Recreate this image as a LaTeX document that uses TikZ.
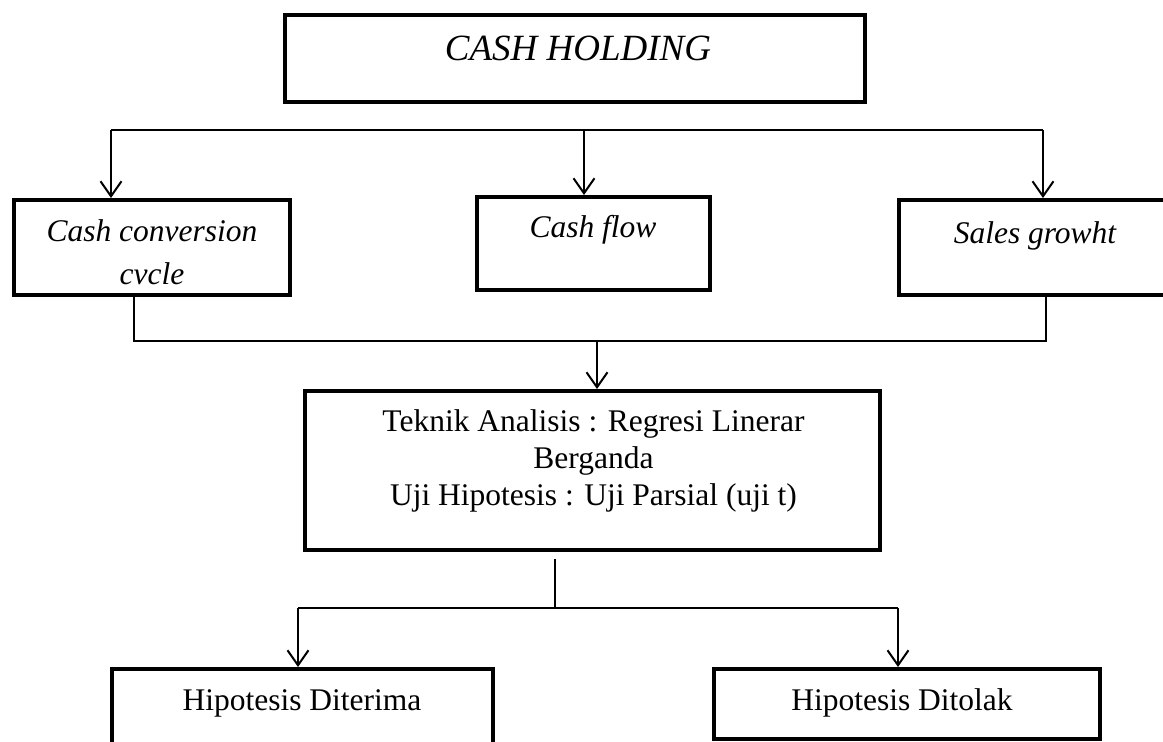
\documentclass[tikz,border=0pt]{standalone}
\usepackage{fontspec}
\setmainfont{Liberation Serif}
\usetikzlibrary{arrows.meta}
\begin{document}
\begin{tikzpicture}[x=1pt,y=-1pt,
  box/.style={draw=black,line width=4pt,fill=white,inner sep=0pt},
  lbl/.style={inner sep=0pt,font=\fontsize{31.5}{37}\selectfont},
  conn/.style={draw=black,line width=2pt},
  arr/.style={conn,-{Straight Barb[length=15pt,width=21pt,line width=2pt]}}]
\useasboundingbox (0,0) rectangle (1163,742);
\clip (0,0) rectangle (1163,742);
% boxes
\node[box,minimum width=580pt,minimum height=87pt] (top) at (575,58.5) {};
\node[box,minimum width=276pt,minimum height=95pt] (b1) at (152,247.5) {};
\node[box,minimum width=233pt,minimum height=93pt] (b2) at (593.5,243.5) {};
\node[box,minimum width=278pt,minimum height=95pt] (b3) at (1038,247.5) {};
\node[box,minimum width=575pt,minimum height=159pt] (m) at (592.5,470.5) {};
\node[box,minimum width=381pt,minimum height=101pt] (d1) at (302.5,719.5) {};
\node[box,minimum width=386pt,minimum height=70pt] (d2) at (907,704) {};
% texts
\node[lbl,anchor=base,font=\fontsize{37}{40}\selectfont\itshape] (ttop) at (578,60) {CASH HOLDING};
\node[lbl,align=center,font=\fontsize{31.5}{43}\selectfont\itshape] (tb1) at (152,252.5) {Cash conversion\\cvcle};
\node[lbl,anchor=base,font=\fontsize{31.5}{37}\selectfont\itshape] (tb2) at (593,237) {Cash flow};
\node[lbl,anchor=base,font=\fontsize{31.5}{37}\selectfont\itshape] (tb3) at (1035,243) {Sales growht};
\node[lbl,align=center] (tm) at (593.5,461) {Teknik Analisis : Regresi Linerar\\Berganda\\Uji Hipotesis : Uji Parsial (uji t)};
\node[lbl,anchor=base] (td1) at (302,710) {Hipotesis Diterima};
\node[lbl,anchor=base] (td2) at (902,710) {Hipotesis Ditolak};
% connectors, top level
\coordinate (hL) at (111,130);
\coordinate (hM) at (584,130);
\coordinate (hR) at (1043,130);
\draw[conn] (hL) -- (hR);
\draw[arr] (hL) -- (hL |- b1.north);
\draw[arr] (hM) -- (hM |- b2.north);
\draw[arr] (hR) -- (hR |- b3.north);
% join
\coordinate (jL) at (134,341);
\coordinate (jM) at (597,341);
\coordinate (jR) at (1046,341);
\draw[conn] (jL |- b1.south) -- (jL) -- (jR) -- (jR |- b3.south);
\draw[arr] (jM) -- (jM |- m.north);
% split
\coordinate (s) at (555,559);
\coordinate (kM) at (555,608);
\coordinate (kL) at (298,608);
\coordinate (kR) at (898,608);
\draw[conn] (s) -- (kM);
\draw[conn] (kL) -- (kR);
\draw[arr] (kL) -- (kL |- d1.north);
\draw[arr] (kR) -- (kR |- d2.north);
\end{tikzpicture}
\end{document}
